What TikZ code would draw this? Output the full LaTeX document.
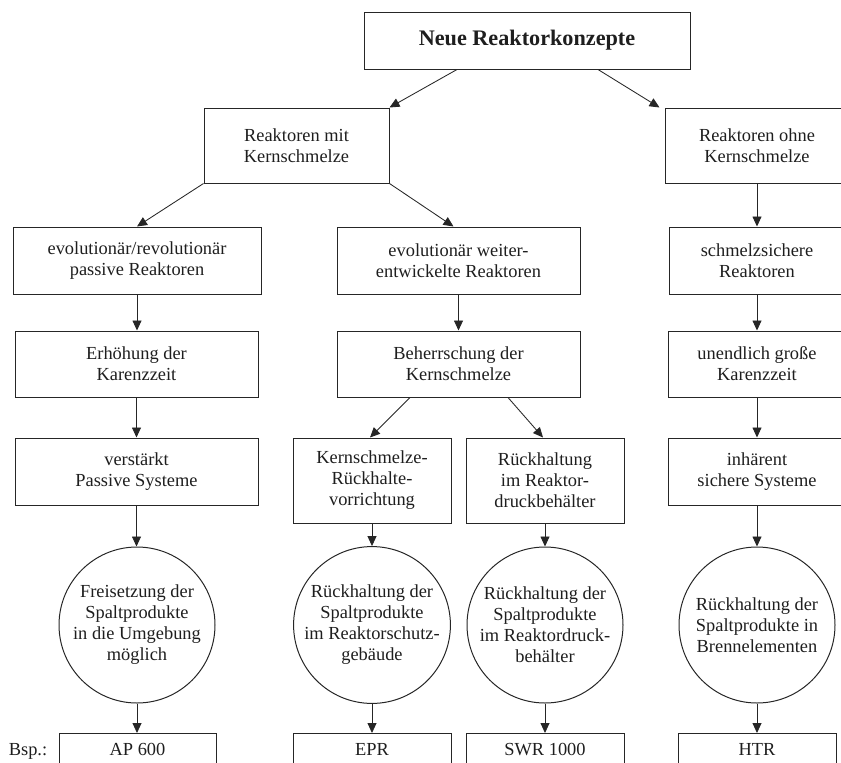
\documentclass[tikz,border=0pt]{standalone}
\usepackage{fontspec}
\setmainfont{Liberation Serif}
\usetikzlibrary{arrows.meta}
\definecolor{linec}{HTML}{262626}
\definecolor{txtc}{HTML}{1E1E1E}
\newcommand\bodyfs{\fontsize{18.4}{21}\selectfont}
\newcommand\titlefs{\fontsize{22.2}{26}\selectfont\bfseries}
\tikzset{
  box/.style={draw=linec, line width=1pt, rectangle, inner sep=0pt,
              align=center, font=\bodyfs, text=txtc},
  circnode/.style={draw=linec, line width=1pt, circle, minimum size=156pt,
              inner sep=0pt, align=center, font=\bodyfs, text=txtc},
  bspbox/.style={box, anchor=north, minimum width=158pt, text height=17pt,
              text depth=40pt, inner ysep=5pt},
  arr/.style={-{Triangle[length=10pt,width=9pt]}, line width=0.85pt, draw=linec},
}
\begin{document}
\begin{tikzpicture}[x=1pt,y=-1pt]
\useasboundingbox (0,0) rectangle (841,763);
\clip (0,0) rectangle (841,763);

% level 0
\node[box, font=\titlefs, minimum width=326pt, minimum height=57pt] (top) at (527,40.5) {Neue Reaktorkonzepte};

% level 1
\node[box, minimum width=185pt, minimum height=75pt] (rmk) at (296.5,145.5) {Reaktoren mit\\Kernschmelze};
\node[box, minimum width=184pt, minimum height=75pt] (rok) at (757,145.5) {Reaktoren ohne\\Kernschmelze};

% level 2
\node[box, minimum width=248pt, minimum height=67pt] (evo) at (137,260.5) {evolutionär/revolutionär\\passive Reaktoren};
\node[box, minimum width=243pt, minimum height=67pt] (wei) at (458.5,260.5) {evolutionär weiter-\\entwickelte Reaktoren};
\node[box, minimum width=176pt, minimum height=67pt] (sch) at (757,260.5) {schmelzsichere\\Reaktoren};

% level 3
\node[box, minimum width=243pt, minimum height=66pt] (erh) at (136.5,364) {Erhöhung der\\Karenzzeit};
\node[box, minimum width=243pt, minimum height=66pt] (beh) at (458.5,364) {Beherrschung der\\Kernschmelze};
\node[box, minimum width=178pt, minimum height=66pt] (une) at (757,364) {unendlich große\\Karenzzeit};

% level 4
\node[box, minimum width=243pt, minimum height=67pt] (ver) at (136.5,471.5) {verstärkt\\Passive Systeme};
\node[box, minimum width=158pt, minimum height=85pt] (ker) at (372,480.5) {Kernschmelze-\\Rückhalte-\\vorrichtung};
\node[box, minimum width=158pt, minimum height=85pt] (rue) at (545,480.5) {Rückhaltung\\im Reaktor-\\druckbehälter};
\node[box, minimum width=178pt, minimum height=67pt] (inh) at (757,471.5) {inhärent\\sichere Systeme};

% outcomes
\node[circnode] (c1) at (137,625) {Freisetzung der\\Spaltprodukte\\in die Umgebung\\möglich};
\node[circnode] (c2) at (372,625) {Rückhaltung der\\Spaltprodukte\\im Reaktorschutz-\\gebäude};
\node[circnode] (c3) at (545,625) {Rückhaltung der\\Spaltprodukte\\im Reaktordruck-\\behälter};
\node[circnode] (c4) at (757,625) {Rückhaltung der\\Spaltprodukte in\\Brennelementen};

% examples
\node[font=\bodyfs, text=txtc, anchor=base] (bsp) at (28,755) {Bsp.:};
\node[bspbox, minimum width=157pt] (b1) at (137.5,733) {AP 600};
\node[bspbox] (b2) at (372,733) {EPR};
\node[bspbox] (b3) at (545,733) {SWR 1000};
\node[bspbox] (b4) at (757,733) {HTR};

% connectors
\draw[arr] ([xshift=-70pt]top.south) -- (rmk.north east);
\draw[arr] ([xshift=71pt]top.south) -- ([xshift=-5pt]rok.north west);
\draw[arr] (rmk.south west) -- (evo.north);
\draw[arr] (rmk.south east) -- ([xshift=-5pt]wei.north);
\draw[arr] (rok.south) -- (sch.north);

\draw[arr] (evo.south) -- (evo.south |- erh.north);
\draw[arr] (erh.south) -- (ver.north);
\draw[arr] (wei.south) -- (beh.north);
\draw[arr] (sch.south) -- (une.north);
\draw[arr] (une.south) -- (inh.north);

\draw[arr] ([xshift=-48.5pt]beh.south) -- ([xshift=-2pt]ker.north);
\draw[arr] ([xshift=49.5pt]beh.south) -- ([xshift=-2pt]rue.north);

\draw[arr] (ver.south) -- (ver.south |- c1.north);
\draw[arr] (ker.south) -- (c2.north);
\draw[arr] (rue.south) -- (c3.north);
\draw[arr] (inh.south) -- (c4.north);

\draw[arr] (c1.south) -- (c1.south |- b1.north);
\draw[arr] (c2.south) -- (b2.north);
\draw[arr] (c3.south) -- (b3.north);
\draw[arr] (c4.south) -- (b4.north);
\end{tikzpicture}
\end{document}
